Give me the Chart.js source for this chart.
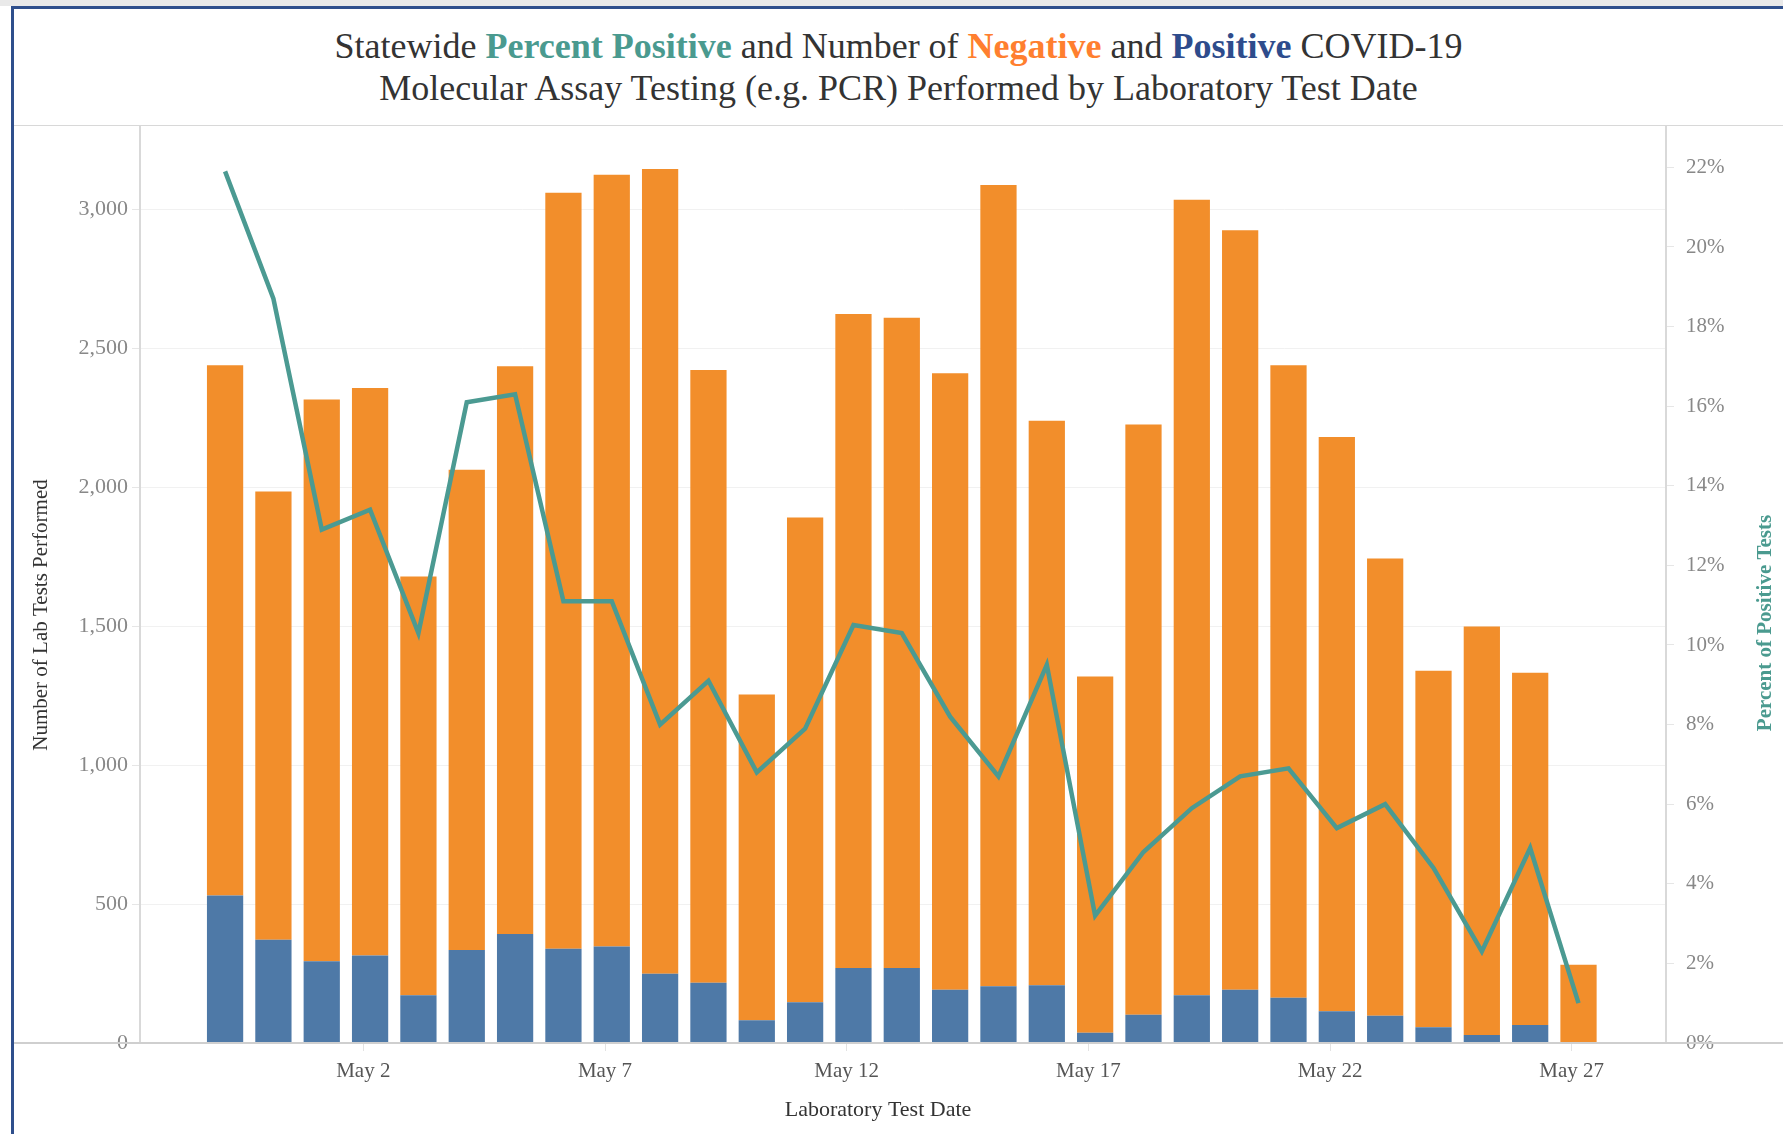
<!DOCTYPE html>
<html>
<head>
<meta charset="utf-8">
<title>Statewide Percent Positive COVID-19 Testing</title>
<script src="https://cdn.jsdelivr.net/npm/chart.js@4.4.0/dist/chart.umd.min.js"></script>
<style>
  body { margin: 0; width: 1783px; height: 1134px; background: #fff; overflow: hidden; position: relative; font-family: "Liberation Serif", serif; }
  .topstrip { position: absolute; left: 0; top: 0; width: 1783px; height: 6px; background: #e9e9e9; }
  .frame { position: absolute; left: 11px; top: 6px; right: 0; bottom: 0; border-top: 3px solid #2f4f8c; border-left: 3px solid #2f4f8c; }
  .title { position: absolute; left: 14px; top: 9px; width: 1769px; height: 116px; border-bottom: 1px solid #d8d8d8;
           display: flex; flex-direction: column; justify-content: center; text-align: center;
           font-size: 36px; line-height: 42px; color: #333; }
  .title b { font-weight: bold; }
  .teal { color: #4a9a8f; }
  .orange { color: #ff7f2f; }
  .blue { color: #2e4c8c; }
  .wrap { position: absolute; left: 14px; top: 126px; width: 1769px; height: 1008px; }
</style>
</head>
<body>
<div class="topstrip"></div>
<div class="frame"></div>
<div class="title">
  <div>Statewide <b class="teal">Percent Positive</b> and Number of <b class="orange">Negative</b> and <b class="blue">Positive</b> COVID-19</div>
  <div>Molecular Assay Testing (e.g. PCR) Performed by Laboratory Test Date</div>
</div>
<div class="wrap"><canvas id="myChart" width="1769" height="1008"></canvas></div>
<script>
// laboratory test dates, Apr 29 - May 27
const dates = ['Apr 29', 'Apr 30', 'May 1', 'May 2', 'May 3', 'May 4', 'May 5', 'May 6', 'May 7', 'May 8',
  'May 9', 'May 10', 'May 11', 'May 12', 'May 13', 'May 14', 'May 15', 'May 16', 'May 17', 'May 18',
  'May 19', 'May 20', 'May 21', 'May 22', 'May 23', 'May 24', 'May 25', 'May 26', 'May 27'];
const tickDates = ['May 2', 'May 7', 'May 12', 'May 17', 'May 22', 'May 27'];

const positiveTests = [531, 372, 294, 315, 172, 335, 392, 339, 347, 249,
  217, 82, 147, 270, 270, 192, 204, 208, 37, 102,
  172, 192, 163, 114, 98, 57, 29, 65, 3];
const negativeTests = [1908, 1613, 2022, 2042, 1507, 1728, 2043, 2721, 2778, 2896,
  2205, 1172, 1744, 2353, 2340, 2218, 2884, 2031, 1282, 2124,
  2863, 2733, 2276, 2067, 1646, 1283, 1470, 1267, 279];
const percentPositive = [21.9, 18.7, 12.9, 13.4, 10.3, 16.1, 16.3, 11.1, 11.1, 8.0,
  9.1, 6.8, 7.9, 10.5, 10.3, 8.2, 6.7, 9.5, 3.2, 4.8,
  5.9, 6.7, 6.9, 5.4, 6.0, 4.4, 2.3, 4.9, 1.0];

const countTicks = [0, 500, 1000, 1500, 2000, 2500, 3000];
const percentTicks = [0, 2, 4, 6, 8, 10, 12, 14, 16, 18, 20, 22];

Chart.defaults.font.family = "'Liberation Serif', serif";

// day index -> {x, y} points for the linear date axis
const toPoints = (arr) => arr.map((v, i) => ({ x: i, y: v }));

// axis titles drawn by hand (both vertical ones read bottom to top) and the long baseline
const chartFrame = {
  id: 'chartFrame',
  afterDraw(chart) {
    const ctx = chart.ctx;
    const area = chart.chartArea;
    ctx.save();
    ctx.strokeStyle = '#cfcfcf';
    ctx.lineWidth = 2;
    ctx.beginPath();
    ctx.moveTo(0, area.bottom);
    ctx.lineTo(chart.width, area.bottom);
    ctx.stroke();

    ctx.textAlign = 'center';
    ctx.textBaseline = 'middle';
    ctx.fillStyle = '#333';
    ctx.font = "22px 'Liberation Serif', serif";
    ctx.fillText('Laboratory Test Date', 864, 984);

    ctx.translate(27, 489);
    ctx.rotate(-Math.PI / 2);
    ctx.font = "21px 'Liberation Serif', serif";
    ctx.fillText('Number of Lab Tests Performed', 0, 0);
    ctx.restore();

    ctx.save();
    ctx.textAlign = 'center';
    ctx.textBaseline = 'middle';
    ctx.translate(1752, 497);
    ctx.rotate(-Math.PI / 2);
    ctx.fillStyle = '#4a9a8f';
    ctx.font = "bold 21px 'Liberation Serif', serif";
    ctx.fillText('Percent of Positive Tests', 0, 0);
    ctx.restore();
  }
};

new Chart(document.getElementById('myChart'), {
  type: 'bar',
  data: {
    datasets: [
      {
        type: 'line',
        label: 'Percent Positive',
        data: toPoints(percentPositive),
        yAxisID: 'y1',
        borderColor: '#4b9a92',
        borderWidth: 4.5,
        pointRadius: 0,
        tension: 0,
        order: 0
      },
      {
        label: 'Positive',
        data: toPoints(positiveTests),
        backgroundColor: '#4e79a7',
        stack: 'tests',
        order: 1
      },
      {
        label: 'Negative',
        data: toPoints(negativeTests),
        backgroundColor: '#f28e2b',
        stack: 'tests',
        order: 1
      }
    ]
  },
  options: {
    responsive: false,
    animation: false,
    categoryPercentage: 1,
    barPercentage: 0.75,
    layout: { padding: 0 },
    plugins: {
      legend: { display: false },
      tooltip: { enabled: false }
    },
    scales: {
      x: {
        type: 'linear',
        stacked: true,
        offset: false,
        bounds: 'data',
        min: -1.76,
        max: 29.81,
        afterBuildTicks: (scale) => {
          scale.ticks = tickDates.map(d => ({ value: dates.indexOf(d) - 0.14 }));
        },
        afterFit: (scale) => { scale.height = 91; scale.paddingLeft = 0; scale.paddingRight = 0; },
        border: { display: false },
        grid: { offset: false, drawOnChartArea: false, tickLength: 8, tickColor: '#e3e3e3' },
        ticks: {
          autoSkip: false,
          maxRotation: 0,
          padding: 8,
          color: '#555',
          font: { size: 21 },
          callback: (value) => dates[Math.round(value)]
        }
      },
      y: {
        stacked: true,
        position: 'left',
        min: 0,
        max: 3300,
        afterBuildTicks: (scale) => { scale.ticks = countTicks.map(v => ({ value: v })); },
        afterFit: (scale) => { scale.width = 126; scale.paddingTop = 0; scale.paddingBottom = 0; },
        border: { color: '#d9d9d9', width: 2 },
        grid: { color: '#f1f1f1', tickLength: 8, tickColor: '#e6e6e6' },
        ticks: {
          autoSkip: false,
          padding: 4,
          color: '#888',
          font: { size: 22 },
          callback: (value) => value.toLocaleString('en-US')
        }
      },
      y1: {
        stacked: false,
        position: 'right',
        min: 0,
        max: 23.04,
        afterBuildTicks: (scale) => { scale.ticks = percentTicks.map(v => ({ value: v })); },
        afterFit: (scale) => { scale.width = 117; scale.paddingTop = 0; scale.paddingBottom = 0; },
        border: { color: '#d9d9d9', width: 2 },
        grid: { drawOnChartArea: false, tickLength: 8, tickColor: '#e6e6e6' },
        ticks: {
          autoSkip: false,
          padding: 12,
          color: '#888',
          font: { size: 21 },
          callback: (value) => value + '%'
        }
      }
    }
  },
  plugins: [chartFrame]
});
</script>
</body>
</html>
